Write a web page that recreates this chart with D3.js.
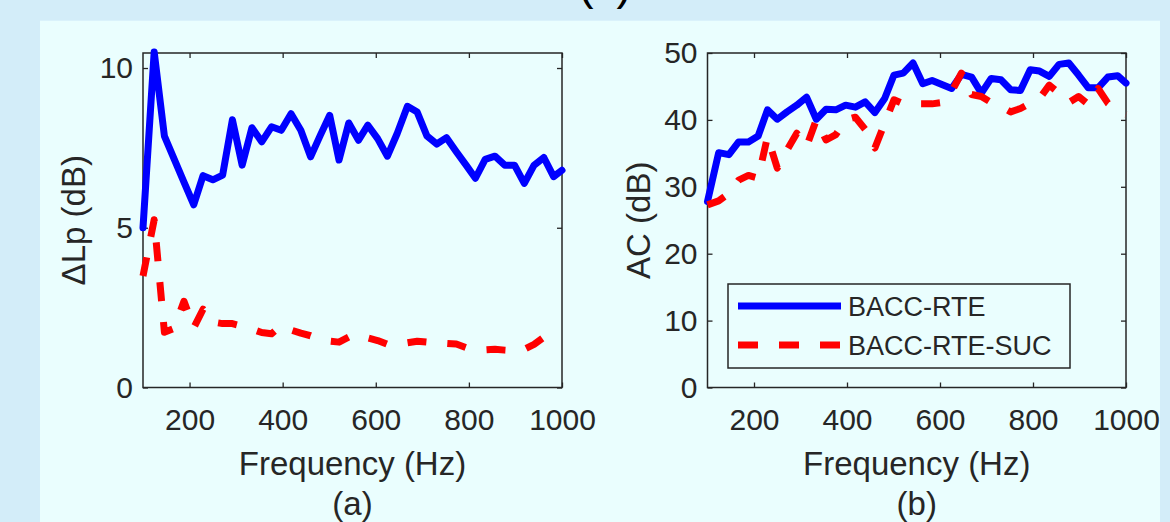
<!DOCTYPE html>
<html><head><meta charset="utf-8">
<script src="https://cdn.jsdelivr.net/npm/d3@7"></script>
<style>
html,body{margin:0;padding:0;background:#d3edf9;}
svg{display:block;}
text{font-family:"Liberation Sans",Arial,Helvetica,sans-serif;}
</style>
</head><body>
<svg id="chart" width="1170" height="522"></svg>
<script>
// ---- data ----
const freq = [100,124,146,167,188,209,229,250,271,292,313,334,355,376,397,418,439,460,481,501,521,542,563,583,604,625,646,668,689,710,731,752,773,794,814,835,856,877,898,919,940,961,982,1000];
const dLpRTE = [5.0,10.5,7.87,7.15,6.43,5.72,6.63,6.5,6.65,8.38,6.96,8.13,7.69,8.16,8.05,8.57,8.05,7.22,7.9,8.52,7.12,8.28,7.74,8.21,7.79,7.24,7.95,8.8,8.62,7.87,7.62,7.82,7.38,6.96,6.55,7.14,7.24,6.96,6.96,6.39,6.96,7.2,6.6,6.8];
const dLpSUC = [3.49,5.25,1.73,1.85,2.7,1.87,2.45,2.05,2.0,2.0,1.92,1.83,1.72,1.68,1.94,1.8,1.7,1.62,1.5,1.45,1.42,1.58,1.65,1.55,1.47,1.35,1.35,1.4,1.45,1.42,1.38,1.38,1.36,1.25,1.2,1.18,1.2,1.17,1.15,1.2,1.35,1.57,1.45,1.45];
const acRTE = [27.8,35.1,34.8,36.7,36.7,37.6,41.5,40.1,41.2,42.2,43.4,40.1,41.6,41.5,42.2,41.9,42.7,41.1,43.2,46.7,47.0,48.5,45.4,45.9,45.3,44.7,46.8,46.4,44.0,46.2,46.0,44.5,44.4,47.5,47.3,46.5,48.3,48.5,46.7,44.8,44.8,46.4,46.6,45.5];
const acSUC = [27.3,27.9,29.0,31.0,31.7,31.3,37.5,32.8,35.5,38.0,36.0,40.0,37.0,37.8,40.0,40.4,38.6,35.8,39.5,43.0,42.4,42.4,42.4,42.4,42.6,44.2,47.0,43.8,43.5,42.6,42.0,41.2,41.7,42.5,43.2,45.2,44.0,42.6,43.5,42.3,44.7,42.5,41.3,40.8];
const xTicks = [200,400,600,800,1000];
const yTicksA = [0,5,10];
const yTicksB = [0,10,20,30,40,50];
const seriesNames = ["BACC-RTE","BACC-RTE-SUC"];
const xLabel = "Frequency (Hz)";
const yLabelA = "\u0394Lp (dB)";
const yLabelB = "AC (dB)";
const captions = ["(a)","(b)"];

// ---- drawing ----
const svg = d3.select("#chart");
const ink = "#262626";
const panelFill = "#eafefe";

svg.append("rect").attr("x",40).attr("y",20.7).attr("width",1120).attr("height",502).attr("fill",panelFill);
svg.append("text").attr("x",605).attr("y",-1.5).attr("text-anchor","middle")
  .attr("font-size",46).attr("fill","#000").text("(c)");

function drawAxes(cfg){
  const x = d3.scaleLinear().domain([100,1000]).range([cfg.x0,cfg.x1]);
  const y = d3.scaleLinear().domain(cfg.yDomain).range([cfg.yb,cfg.yt]);
  const g = svg.append("g");
  const fmt = d3.format("d");

  const styleAxis = sel => {
    sel.select(".domain").remove();
    sel.selectAll(".tick line").attr("stroke",ink).attr("stroke-width",1.3);
    sel.selectAll(".tick text").attr("fill",ink).attr("font-size",30)
      .attr("font-family","'Liberation Sans',Arial,sans-serif");
  };
  g.append("g").attr("transform",`translate(0,${cfg.yb})`)
    .call(d3.axisBottom(x).tickValues(xTicks).tickSize(-5).tickPadding(21).tickFormat(fmt)).call(styleAxis);
  g.append("g").attr("transform",`translate(0,${cfg.yt})`)
    .call(d3.axisTop(x).tickValues(xTicks).tickSize(-5).tickFormat("")).call(styleAxis);
  g.append("g").attr("transform",`translate(${cfg.x0},0)`)
    .call(d3.axisLeft(y).tickValues(cfg.yTicks).tickSize(-5).tickPadding(10).tickFormat(fmt)).call(styleAxis);
  g.append("g").attr("transform",`translate(${cfg.x1},0)`)
    .call(d3.axisRight(y).tickValues(cfg.yTicks).tickSize(-5).tickFormat("")).call(styleAxis);

  g.append("rect").attr("x",cfg.x0).attr("y",cfg.yt).attr("width",cfg.x1-cfg.x0).attr("height",cfg.yb-cfg.yt)
    .attr("fill","none").attr("stroke",ink).attr("stroke-width",1.5);

  const line = d3.line().x((d,i)=>x(freq[i])).y(d=>y(d));
  g.append("path").datum(cfg.s1).attr("d",line).attr("fill","none")
    .attr("stroke","#0000ff").attr("stroke-width",7).attr("stroke-linejoin","round").attr("stroke-linecap","round");
  g.append("path").datum(cfg.s2).attr("d",line).attr("fill","none")
    .attr("stroke","#ff0000").attr("stroke-width",7).attr("stroke-dasharray","19,21").attr("stroke-linejoin","round");

  const cx = (cfg.x0+cfg.x1)/2;
  g.append("text").attr("x",cx).attr("y",475).attr("text-anchor","middle").attr("font-size",33).attr("fill",ink).text(xLabel);
  g.append("text").attr("x",cx).attr("y",515).attr("text-anchor","middle").attr("font-size",33).attr("fill",ink).text(cfg.caption);
  g.append("text").attr("transform",`translate(${cfg.x0-58},${(cfg.yt+cfg.yb)/2}) rotate(-90)`)
    .attr("text-anchor","middle").attr("font-size",33).attr("fill",ink).text(cfg.ylabel);
  return {x,y,g};
}

drawAxes({x0:143,x1:562,yt:53,yb:387.5,yDomain:[0,10.47],yTicks:yTicksA,s1:dLpRTE,s2:dLpSUC,ylabel:yLabelA,caption:captions[0]});
drawAxes({x0:707.5,x1:1126,yt:53,yb:387.5,yDomain:[0,50],yTicks:yTicksB,s1:acRTE,s2:acSUC,ylabel:yLabelB,caption:captions[1]});

// legend
const lg = svg.append("g");
lg.append("rect").attr("x",728).attr("y",284).attr("width",342).attr("height",84)
  .attr("fill",panelFill).attr("stroke",ink).attr("stroke-width",1.5);
const rows = [{name:seriesNames[0],color:"#0000ff",dash:null,y:306},{name:seriesNames[1],color:"#ff0000",dash:"20,21",y:345}];
rows.forEach(r=>{
  lg.append("line").attr("x1",738).attr("x2",841).attr("y1",r.y).attr("y2",r.y)
    .attr("stroke",r.color).attr("stroke-width",7).attr("stroke-dasharray",r.dash);
  lg.append("text").attr("x",848).attr("y",r.y+10).attr("font-size",27).attr("fill",ink).text(r.name);
});
</script>
</body></html>
